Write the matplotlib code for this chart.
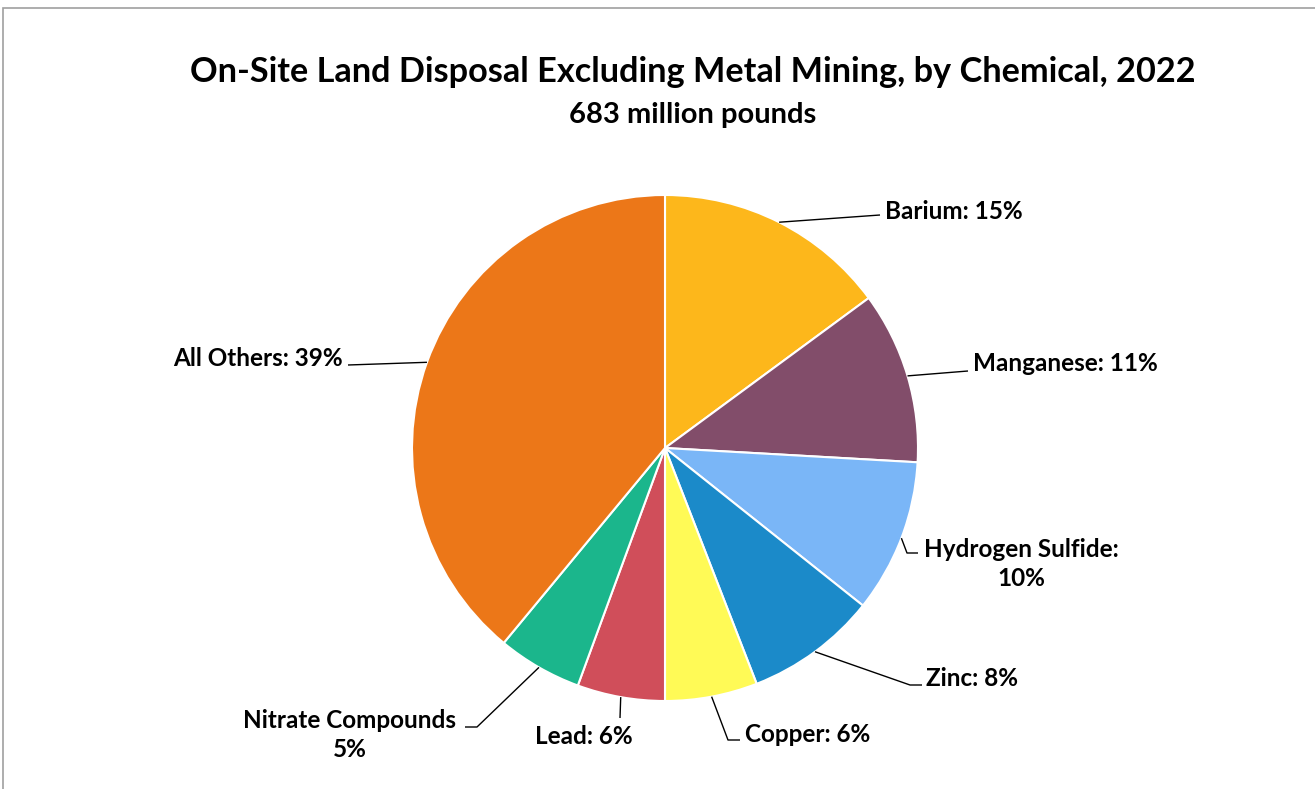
import matplotlib
matplotlib.use("Agg")
import matplotlib.pyplot as plt
from matplotlib.patches import Rectangle
import numpy as np

# ---- data ----
chemicals = ["Barium", "Manganese", "Hydrogen Sulfide", "Zinc", "Copper",
             "Lead", "Nitrate Compounds", "All Others"]
shares = [14.9, 11.0, 9.8, 8.4, 5.9, 5.6, 5.4, 39.0]
pct_labels = ["15%", "11%", "10%", "8%", "6%", "6%", "5%", "39%"]
label_texts = ["Barium: 15%", "Manganese: 11%", "Hydrogen Sulfide:\n10%",
               "Zinc: 8%", "Copper: 6%", "Lead: 6%",
               "Nitrate Compounds\n5%", "All Others: 39%"]
colors = ["#FDB71B", "#824D6A", "#7AB6F7", "#1B8AC9", "#FFFA56",
          "#D04E5A", "#1BB68C", "#EC7718"]
title = "On-Site Land Disposal Excluding Metal Mining, by Chemical, 2022"
subtitle = "683 million pounds"

W, H = 1315, 789
FONT = "Lato"

fig = plt.figure(figsize=(W / 100, H / 100), dpi=100)
ax = fig.add_axes([0, 0, 1, 1])

def Y(y):
    return H - y

cx, cy, R = 665, 448, 253
wedges, _ = ax.pie(shares, colors=colors, startangle=90, counterclock=False,
                   center=(cx, Y(cy)), radius=R,
                   wedgeprops=dict(edgecolor="white", linewidth=1.5))
ax.set_xlim(0, W)
ax.set_ylim(0, H)
ax.set_aspect("auto")
ax.axis("off")

# layout: leader-line path points (after the wedge edge point) and text placement, in pixels
layout = [
    dict(path=[(880, 215)], txt=(885, 211), ha="left"),
    dict(path=[(968, 371)], txt=(973, 363), ha="left"),
    dict(path=[(907, 553), (918, 553)], txt=(1021, 564), ha="center"),
    dict(path=[(910, 685), (922, 685)], txt=(926, 679), ha="left"),
    dict(path=[(728, 740), (740, 740)], txt=(745, 735), ha="left"),
    dict(path=[(620, 718)], txt=(584, 737), ha="center"),
    dict(path=[(477, 727), (465, 727)], txt=(350, 735), ha="center"),
    dict(path=[(348, 365)], txt=(343, 358), ha="right"),
]

for w, lab, lay in zip(wedges, label_texts, layout):
    mid = np.deg2rad((w.theta1 + w.theta2) / 2)
    sx = cx + R * np.cos(mid)
    sy = Y(cy) + R * np.sin(mid)
    xs = [sx] + [p[0] for p in lay["path"]]
    ys = [sy] + [Y(p[1]) for p in lay["path"]]
    ax.plot(xs, ys, color="black", lw=1.0, solid_capstyle="butt")
    ax.text(lay["txt"][0], Y(lay["txt"][1]), lab, ha=lay["ha"], va="center",
            fontsize=17.5, fontweight="bold", family=FONT, linespacing=1.32,
            multialignment="center")

ax.text(693, Y(72), title, ha="center", va="center", fontsize=24.7,
        fontweight="bold", family=FONT)
ax.text(693, Y(115), subtitle, ha="center", va="center", fontsize=21,
        fontweight="bold", family=FONT)

# chart border (partially cropped)
fig.patches.append(Rectangle((3 / W, -0.1), 1.2, (H - 8) / H + 0.1,
                             transform=fig.transFigure, fill=False,
                             edgecolor="#A0A0A0", lw=1.2))

fig.savefig("out.png", dpi=100, facecolor="white")
